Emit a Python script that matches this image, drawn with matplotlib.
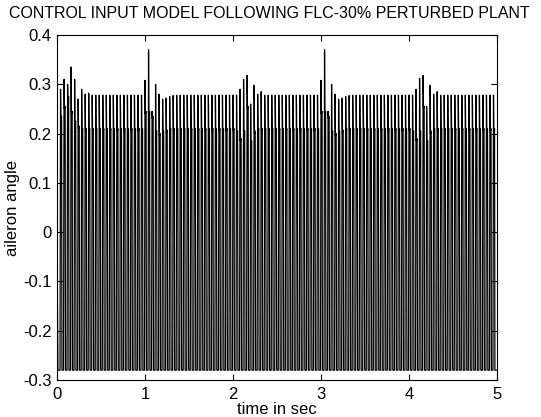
import numpy as np
import matplotlib
matplotlib.use('Agg')
import matplotlib.pyplot as plt

plt.rcParams['font.family'] = ['Liberation Sans', 'DejaVu Sans']

# one switching cycle every 0.04 s; peak value reached in each cycle
period = 0.04
peaks = [
    0.290, 0.310, 0.300, 0.335, 0.310, 0.270, 0.290, 0.280, 0.282, 0.278,
    0.278, 0.278, 0.278, 0.278, 0.278, 0.278, 0.278, 0.278, 0.278, 0.278,
    0.278, 0.278, 0.278, 0.278, 0.308,
    0.370, 0.245, 0.300, 0.280, 0.270, 0.272, 0.275, 0.277, 0.278, 0.278,
    0.278, 0.278, 0.278, 0.278, 0.278, 0.278, 0.278, 0.278, 0.278, 0.278,
    0.278, 0.278, 0.278, 0.278, 0.278,
    0.278, 0.290, 0.310, 0.318, 0.260, 0.298, 0.280, 0.285, 0.278, 0.278,
    0.278, 0.278, 0.278, 0.278, 0.278, 0.278, 0.278, 0.278, 0.278, 0.278,
    0.278, 0.278, 0.278, 0.278, 0.308,
    0.370, 0.245, 0.300, 0.280, 0.270, 0.272, 0.275, 0.277, 0.278, 0.278,
    0.278, 0.278, 0.278, 0.278, 0.278, 0.278, 0.278, 0.278, 0.278, 0.278,
    0.278, 0.278, 0.278, 0.278, 0.278,
    0.278, 0.290, 0.312, 0.318, 0.255, 0.298, 0.280, 0.285, 0.278, 0.278,
    0.278, 0.278, 0.278, 0.278, 0.278, 0.278, 0.278, 0.278, 0.278, 0.278,
    0.278, 0.278, 0.278, 0.278,
]
# level the signal falls back to right after each peak
shelves = [
    0.230, 0.250, 0.270, 0.240, 0.220, 0.210, 0.205, 0.205, 0.205, 0.205,
    0.205, 0.205, 0.205, 0.205, 0.205, 0.205, 0.205, 0.205, 0.205, 0.205,
    0.205, 0.205, 0.205, 0.205, 0.240,
    0.240, 0.230, 0.200, 0.195, 0.200, 0.202, 0.205, 0.205, 0.205, 0.205,
    0.205, 0.205, 0.205, 0.205, 0.205, 0.205, 0.205, 0.205, 0.205, 0.205,
    0.205, 0.205, 0.205, 0.205, 0.205,
    0.200, 0.185, 0.200, 0.250, 0.180, 0.200, 0.205, 0.205, 0.205, 0.205,
    0.205, 0.205, 0.205, 0.205, 0.205, 0.205, 0.205, 0.205, 0.205, 0.205,
    0.205, 0.205, 0.205, 0.205, 0.240,
    0.240, 0.230, 0.200, 0.195, 0.200, 0.202, 0.205, 0.205, 0.205, 0.205,
    0.205, 0.205, 0.205, 0.205, 0.205, 0.205, 0.205, 0.205, 0.205, 0.205,
    0.205, 0.205, 0.205, 0.205, 0.205,
    0.200, 0.185, 0.200, 0.250, 0.180, 0.200, 0.205, 0.205, 0.205, 0.205,
    0.205, 0.205, 0.205, 0.205, 0.205, 0.205, 0.205, 0.205, 0.205, 0.205,
    0.205, 0.205, 0.205, 0.205,
]
bottom = -0.28

t = [0.0, 0.01]
u = [0.0, bottom]
for k, (pk, sh) in enumerate(zip(peaks, shelves)):
    tp = period * (k + 1)
    t += [tp - 0.006, tp, tp + 0.004, tp + 0.012, tp + 0.016]
    u += [bottom, pk, sh, sh + 0.005, bottom]
t.append(5.0)
u.append(bottom)

fig = plt.figure(figsize=(5.41, 4.17), dpi=100)
ax = fig.add_axes([0.1054, 0.0887, 0.8133, 0.8273])
ax.plot(t, u, color='black', linewidth=0.9)

ax.set_xlim(0, 5)
ax.set_ylim(-0.3, 0.4)
ax.set_xticks([0, 1, 2, 3, 4, 5])
ax.set_yticks([-0.3, -0.2, -0.1, 0, 0.1, 0.2, 0.3, 0.4])
ax.set_yticklabels(['-0.3', '-0.2', '-0.1', '0', '0.1', '0.2', '0.3', '0.4'])
ax.tick_params(direction='in', top=True, right=True, length=4, width=0.8,
               labelsize=12)
ax.tick_params(axis='x', pad=5)
ax.tick_params(axis='y', pad=4)
for s in ax.spines.values():
    s.set_linewidth(0.8)

fig.text(0.498, 1 - 13 / 417, 'CONTROL INPUT MODEL FOLLOWING FLC-30% PERTURBED PLANT',
         fontsize=11.5, ha='center', va='center')
ax.set_xlabel('time in sec', fontsize=12, labelpad=0)
ax.set_ylabel('aileron angle', fontsize=12, labelpad=2)

fig.savefig('out.png', dpi=100)
